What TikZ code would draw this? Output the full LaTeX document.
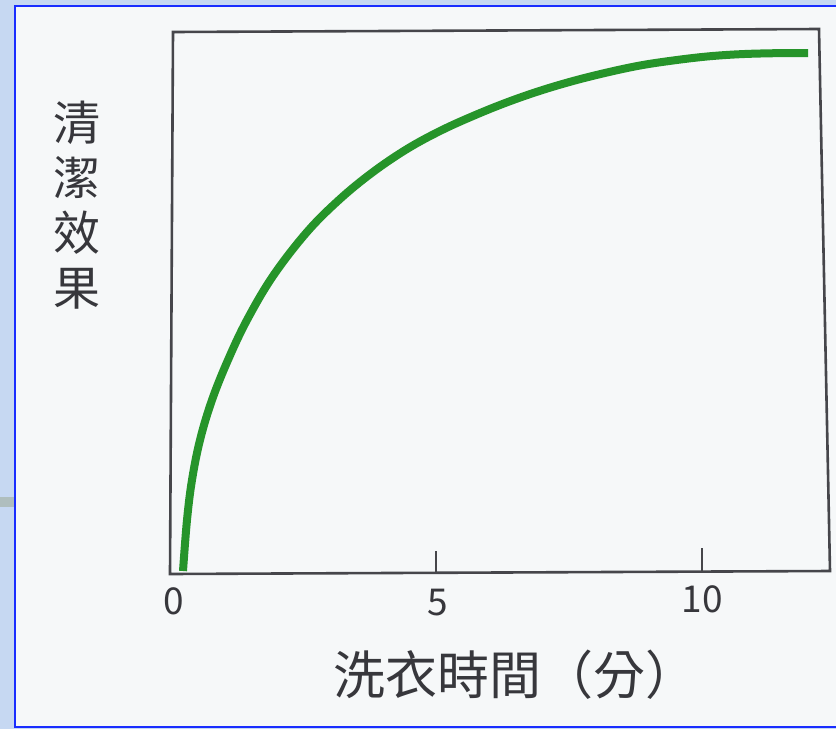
\documentclass[tikz,border=0pt]{standalone}
\usepackage{fontspec}
\newfontfamily\cjk{Noto Sans CJK TC}
\definecolor{slideblue}{RGB}{198,216,242}
\definecolor{framebl}{RGB}{25,45,255}
\definecolor{paper}{RGB}{246,248,249}
\definecolor{axisgray}{RGB}{70,70,75}
\definecolor{txtgray}{RGB}{55,55,60}
\definecolor{curvegreen}{RGB}{38,148,42}
\definecolor{grayrect}{RGB}{175,190,190}
\tikzset{
  axisline/.style={draw=axisgray, line width=2.6pt, line join=miter},
  tickline/.style={draw=axisgray, line width=1.8pt},
  numlab/.style={inner sep=0pt, text=txtgray, font={\cjk\fontsize{37}{37}\selectfont}},
  cjklab/.style={inner sep=0pt, text=txtgray, align=center},
}
\begin{document}
\begin{tikzpicture}[x=1pt,y=-1pt]
\useasboundingbox (0,0) rectangle (836,729);
% slide background
\fill[slideblue] (0,0) rectangle (836,729);
\fill[grayrect] (0,497) rectangle (14,507);
\fill[paper] (15,6) rectangle (836,727);
\draw[framebl, line width=2.5pt] (836,6) -- (15,6) -- (15,727) -- (836,727);
% plot box
\coordinate (tl) at (173,32);
\coordinate (tr) at (819,29);
\coordinate (br) at (830,571);
\coordinate (bl) at (170,574);
\draw[axisline] (tl) -- (tr) -- (br) -- (bl) -- cycle;
% ticks
\coordinate (k5a) at (436,573);
\coordinate (k5b) at (436,551);
\coordinate (k10a) at (702,571);
\coordinate (k10b) at (702,548);
\draw[tickline] (k5a) -- (k5b);
\draw[tickline] (k10a) -- (k10b);
% curve
\draw[curvegreen, line width=8pt, line cap=butt] plot[smooth, tension=0.6] coordinates {
 (183,571) (187,520) (192,480) (200,440) (212,400) (228,360) (247,320)
 (273,276) (307,232) (340,199) (373,172) (407,149) (440,131) (473,116)
 (507,102.3) (540,90.8) (573,81) (607,72.5) (640,65.5) (673,60.5) (707,56.5)
 (740,54.2) (775,53.2) (808,53)};
% labels
\node[numlab] (t0) at (174,601) {0};
\node[numlab] (t5) at (438,603) {5};
\node[numlab] (t10) at (702,599) {10};
\node[cjklab, font={\cjk\fontsize{52}{52}\selectfont}] (xlab) at (515,675) {洗衣時間（分）};
\node[cjklab, font={\cjk\fontsize{47}{55}\selectfont}] (ylab) at (77,205) {清\\潔\\效\\果};
\end{tikzpicture}
\end{document}
